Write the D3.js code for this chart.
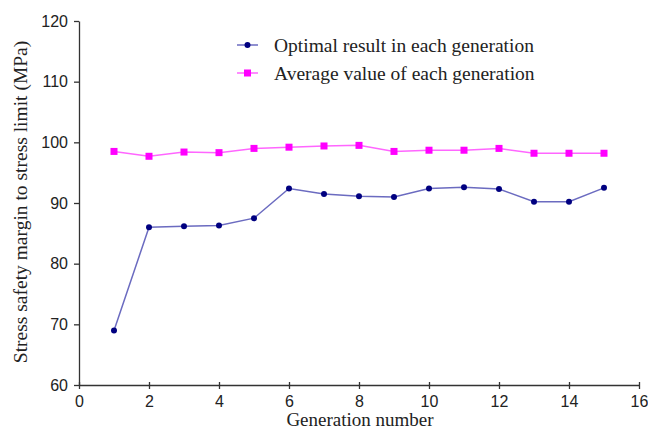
<!DOCTYPE html>
<html>
<head>
<meta charset="utf-8">
<script src="https://cdn.jsdelivr.net/npm/d3@7"></script>
<style>
  body { margin: 0; background: #fff; }
  .tick text { font-family: "Liberation Sans", Arial, sans-serif; font-size: 16px; fill: #222; }
</style>
</head>
<body>
<div id="chart"></div>
<script>
// data
const generations = [1, 2, 3, 4, 5, 6, 7, 8, 9, 10, 11, 12, 13, 14, 15];
const optimalResult = [69.0, 86.0, 86.15, 86.3, 87.5, 92.4, 91.5, 91.1, 91.0, 92.4, 92.6, 92.3, 90.2, 90.2, 92.5];
const averageValue = [98.5, 97.7, 98.4, 98.3, 99.0, 99.2, 99.4, 99.5, 98.5, 98.7, 98.7, 99.0, 98.2, 98.2, 98.2];
const xTicks = [0, 2, 4, 6, 8, 10, 12, 14, 16];
const yTicks = [60, 70, 80, 90, 100, 110, 120];

var margin = { top: 21, right: 9, bottom: 46, left: 79 },
    width = 648 - margin.left - margin.right,
    height = 431 - margin.top - margin.bottom;

const serif = "'Liberation Serif', 'Times New Roman', serif";

const svg = d3.select("#chart")
    .append("svg")
    .attr("width", 648)
    .attr("height", 431)
    .append("g")
    .attr("transform", `translate(${margin.left},${margin.top})`);

// scales
const x = d3.scaleLinear().domain([0, 16]).range([0, 560]);
const y = d3.scaleLinear().domain([60, 120]).range([height, 0]);

// axes
const xAxis = d3.axisBottom(x).tickValues(xTicks).tickSize(4).tickSizeOuter(0).tickPadding(7);
const yAxis = d3.axisLeft(y).tickValues(yTicks).tickSize(5).tickSizeOuter(0).tickPadding(6);

const gx = svg.append("g")
    .attr("transform", `translate(0,${height})`)
    .call(xAxis);
gx.selectAll(".tick line").attr("y1", -3);
svg.append("g").call(yAxis);
svg.selectAll(".domain, .tick line").attr("stroke", "#333").attr("stroke-width", 1.3);

// axis titles
svg.append("text")
    .attr("x", 281)
    .attr("y", height + 41)
    .attr("text-anchor", "middle")
    .style("font-family", serif)
    .style("font-size", "19px")
    .style("fill", "#222")
    .text("Generation number");

svg.append("text")
    .attr("transform", `translate(-52,${181}) rotate(-90)`)
    .attr("text-anchor", "middle")
    .style("font-family", serif)
    .style("font-size", "19.5px")
    .style("fill", "#222")
    .text("Stress safety margin to stress limit (MPa)");

// lines
const line = d3.line()
    .x((d, i) => x(generations[i]))
    .y(d => y(d));

svg.append("path")
    .datum(averageValue)
    .attr("fill", "none")
    .attr("stroke", "#ff66ff")
    .attr("stroke-width", 1.5)
    .attr("d", line);

svg.append("path")
    .datum(optimalResult)
    .attr("fill", "none")
    .attr("stroke", "#6b6bc0")
    .attr("stroke-width", 1.5)
    .attr("d", line);

svg.selectAll(".sq")
    .data(averageValue)
    .join("rect")
    .attr("x", (d, i) => x(generations[i]) - 3.5)
    .attr("y", d => y(d) - 3.5)
    .attr("width", 7)
    .attr("height", 7)
    .attr("fill", "#ff00ff");

svg.selectAll(".dot")
    .data(optimalResult)
    .join("circle")
    .attr("cx", (d, i) => x(generations[i]))
    .attr("cy", d => y(d))
    .attr("r", 3)
    .attr("fill", "#000080");

// legend
var lx = 158, ly = 24;
svg.append("line").attr("x1", lx).attr("x2", lx + 21).attr("y1", ly).attr("y2", ly)
    .attr("stroke", "#6b6bc0").attr("stroke-width", 1.5);
svg.append("circle").attr("cx", lx + 10.5).attr("cy", ly).attr("r", 3).attr("fill", "#000080");
svg.append("line").attr("x1", lx).attr("x2", lx + 21).attr("y1", ly + 28).attr("y2", ly + 28)
    .attr("stroke", "#ff66ff").attr("stroke-width", 1.5);
svg.append("rect").attr("x", lx + 7).attr("y", ly + 24.5).attr("width", 7).attr("height", 7)
    .attr("fill", "#ff00ff");

const legendNames = ["Optimal result in each generation", "Average value of each generation"];
for (let i = 0; i < legendNames.length; i++) {
    svg.append("text")
        .attr("x", lx + 37)
        .attr("y", ly + i * 28)
        .attr("dy", "0.35em")
        .style("font-family", serif)
        .style("font-size", "19.5px")
        .style("fill", "#222")
        .text(legendNames[i]);
}
</script>
</body>
</html>
